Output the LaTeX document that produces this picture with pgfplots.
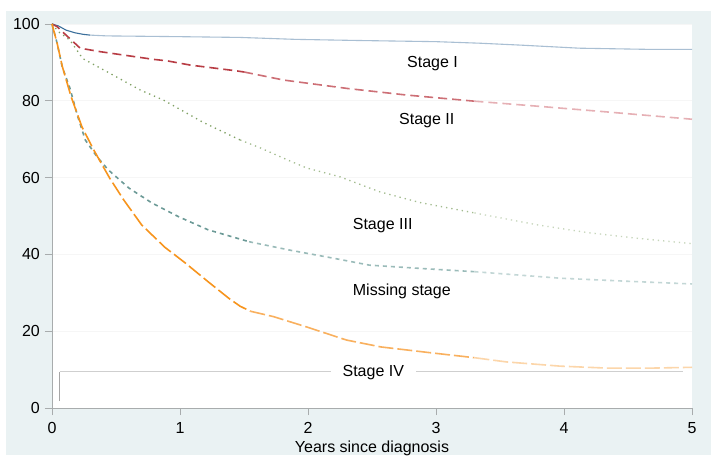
\documentclass[border=0pt]{standalone}
\usepackage{fontspec}
\setmainfont{Liberation Sans}
\usepackage{pgfplots}
\pgfplotsset{compat=1.18}
\definecolor{bgblue}{HTML}{EAF2F3}
\definecolor{axisgray}{HTML}{A8ACAD}
\definecolor{sIa}{HTML}{3B6F9B}
\definecolor{sIb}{HTML}{A9BFD3}
\definecolor{sIIa}{HTML}{B83C44}
\definecolor{sIIb}{HTML}{CD6F76}
\definecolor{sIIc}{HTML}{E6B0B5}
\definecolor{sIIIa}{HTML}{7FA062}
\definecolor{sIIIb}{HTML}{A2BB8E}
\definecolor{sIIIc}{HTML}{C6D5BA}
\definecolor{smissa}{HTML}{6C9A97}
\definecolor{smissb}{HTML}{9ABBB9}
\definecolor{smissc}{HTML}{C3D7D6}
\definecolor{sIVa}{HTML}{F7941D}
\definecolor{sIVb}{HTML}{F9B05E}
\definecolor{sIVc}{HTML}{FCD6AA}
\definecolor{boxgray}{HTML}{CFCFCF}
\definecolor{boxdark}{HTML}{A6A6A6}
\begin{document}
\fontsize{16}{19}\selectfont
\begin{tikzpicture}
\useasboundingbox (-52pt,-47pt) rectangle (659pt,408pt);
\fill[bgblue] (-46pt,-47pt) rectangle (659pt,397pt);
\fill[white] (0pt,0pt) rectangle (640pt,384pt);
\begin{axis}[
  at={(0pt,0pt)}, anchor=south west,
  scale only axis, width=640pt, height=384pt,
  xmin=0, xmax=5, ymin=0, ymax=100,
  axis x line*=bottom, axis y line*=left,
  axis line style={-, draw=axisgray, line width=0.8pt},
  tick style={draw=axisgray, line width=0.8pt},
  tick align=outside, major tick length=7pt,
  minor tick num=0,
  xtick={0,1,2,3,4,5}, ytick={0,20,40,60,80,100},
  ymajorgrids, grid style={draw=gray!7, line width=0.6pt},
  /pgf/number format/assume math mode=true,
  ticklabel style={font=\fontsize{16}{19}\selectfont},
  xticklabel style={inner sep=0pt, text height=11.5pt, text depth=0pt, anchor=north, yshift=-6.7pt},
  yticklabel style={inner sep=0pt, anchor=east, xshift=-5pt},
  xlabel={Years since diagnosis},
  xlabel style={at={(axis description cs:0.5,0)}, anchor=base, yshift=-44pt, inner sep=0pt},
  clip=false,
]
% Stage IV box line
\addplot[boxgray, line width=1pt] coordinates {(0.06,9.4) (4.93,9.4)};
\addplot[boxdark, line width=1pt] coordinates {(0.06,1.8) (0.06,9.4)};
% Stage I
\addplot[sIa, line width=1.1pt] coordinates {
(0,100) (0.05,99.5) (0.11,98.4) (0.18,97.7) (0.245,97.3) (0.3,97.1)};
\addplot[sIb, line width=1.1pt] coordinates {
(0.3,97.1) (0.43,96.9) (1,96.7) (1.47,96.5)
(1.9,96.0) (2.4,95.7) (3.0,95.4) (3.34,95.0) (3.66,94.5) (4.12,93.7) (4.65,93.4) (5,93.4)};
% Stage II
\addplot[sIIa, line width=1.6pt, dash pattern=on 9pt off 5pt] coordinates {
(0,100) (0.04,99.3) (0.11,97.1) (0.22,93.7) (0.375,92.8) (0.79,90.8) (0.9,90.4) (1.08,89.3)
(1.44,87.8) (1.5,87.5)};
\addplot[sIIb, line width=1.6pt, dash pattern=on 9pt off 5pt] coordinates {
(1.5,87.5) (1.81,85.4) (2.31,83.2) (2.77,81.5) (3.3,79.9)};
\addplot[sIIc, line width=1.6pt, dash pattern=on 9pt off 5pt] coordinates {
(3.3,79.9) (3.79,78.6) (4.3,77.2) (5,75.2)};
% Stage III
\addplot[sIIIa, line width=1.3pt, dash pattern=on 1.3pt off 4pt] coordinates {
(0,100) (0.05,98) (0.14,95.8) (0.24,91) (0.45,87.2) (0.69,82.8) (0.87,80.2) (1.18,74.4)
(1.33,72) (1.47,69.8)};
\addplot[sIIIb, line width=1.3pt, dash pattern=on 1.3pt off 4pt] coordinates {
(1.47,69.8) (1.63,67.7) (1.84,64.6) (1.99,62.5) (2.25,60.2) (2.56,56.3) (2.875,53.5)
(3.3,50.8)};
\addplot[sIIIc, line width=1.3pt, dash pattern=on 1.3pt off 4pt] coordinates {
(3.3,50.8) (3.79,47.7) (4.18,45.7) (4.57,44.2) (5,42.8)};
% Missing stage
\addplot[smissa, line width=1.6pt, dash pattern=on 4pt off 4pt] coordinates {
(0,100) (0.04,95) (0.08,88.8) (0.14,83.3) (0.2,76) (0.26,69.8) (0.35,65.5) (0.44,62.0)
(0.6,57.3) (0.78,53.4) (0.99,49.8) (1.22,46.4) (1.54,43.3)};
\addplot[smissb, line width=1.6pt, dash pattern=on 4pt off 4pt] coordinates {
(1.54,43.3) (1.86,41.1) (2.2,39) (2.48,37.2) (2.9,36.3) (3.3,35.5)};
\addplot[smissc, line width=1.6pt, dash pattern=on 4pt off 4pt] coordinates {
(3.3,35.5) (3.97,33.8) (4.5,33) (5,32.3)};
% Stage IV
\addplot[sIVa, line width=1.6pt, dash pattern=on 15pt off 4pt] coordinates {
(0,100) (0.04,95) (0.08,89) (0.15,81) (0.234,73.2) (0.326,67.2) (0.45,59.9) (0.56,54.2)
(0.70,47.7) (0.88,41.9) (1.04,37.8) (1.23,32.6) (1.38,28.6) (1.47,26.5) (1.55,25.2)};
\addplot[sIVb, line width=1.6pt, dash pattern=on 15pt off 4pt] coordinates {
(1.55,25.2) (1.73,23.8) (1.99,21.1) (2.3,17.7) (2.57,15.9) (2.98,14.3) (3.3,13.1)};
\addplot[sIVc, line width=1.6pt, dash pattern=on 15pt off 4pt] coordinates {
(3.3,13.1) (3.55,12.0) (3.97,10.9) (4.33,10.4) (4.7,10.4) (5,10.6)};
\node[anchor=base west, inner sep=0pt] at (axis cs:2.773,88.8) {Stage I};
\node[anchor=base west, inner sep=0pt] at (axis cs:2.711,73.7) {Stage II};
\node[anchor=base west, inner sep=0pt] at (axis cs:2.349,46.6) {Stage III};
\node[anchor=base west, inner sep=0pt] at (axis cs:2.349,29.2) {Missing stage};
\node[anchor=base, fill=white, inner xsep=12pt, inner ysep=2pt] at (axis cs:2.51,8.15) {Stage IV};
\end{axis}
\end{tikzpicture}
\end{document}
